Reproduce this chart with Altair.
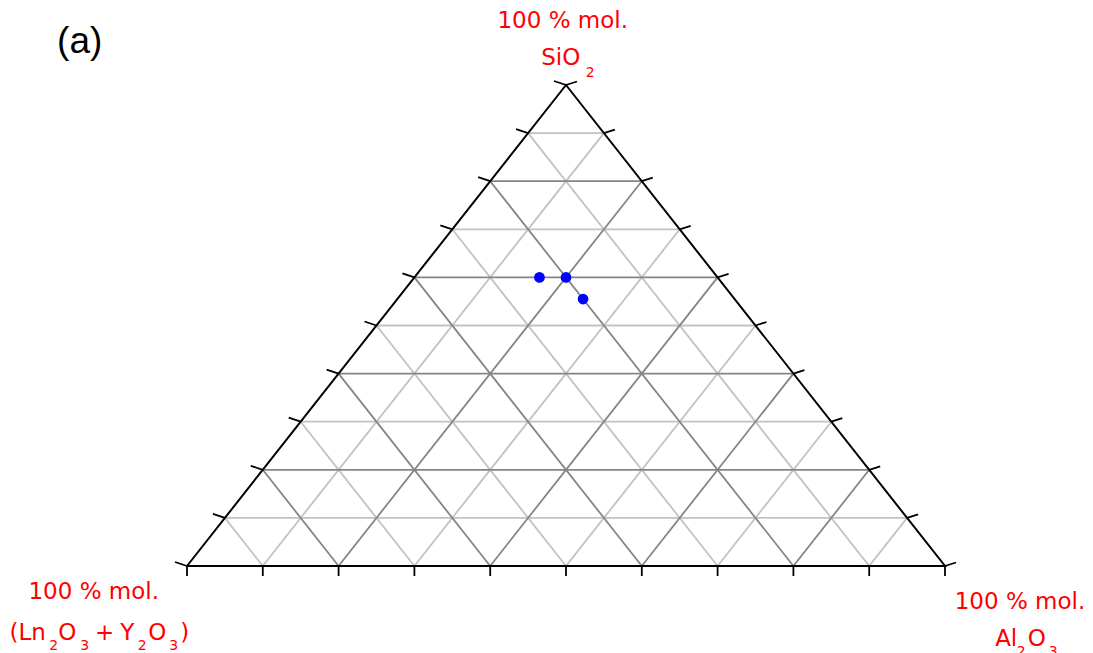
import altair as alt
import pandas as pd

# ---- data ----
grid_levels = [10, 20, 30, 40, 50, 60, 70, 80, 90]          # % mol. grid lines
tick_levels = [0, 10, 20, 30, 40, 50, 60, 70, 80, 90, 100]  # % mol. ticks
sio2 = [60.0, 60.0, 55.5]          # % mol. SiO2
al2o3 = [16.5, 20.0, 24.5]         # % mol. Al2O3
ln2o3_y2o3 = [23.5, 20.0, 20.0]    # % mol. (Ln2O3 + Y2O3)

W, H = 758, 481
RED = "#ff0000"
FONT = "DejaVu Sans"

xs = alt.Scale(domain=[0, 1], nice=False, zero=False)
ys = alt.Scale(domain=[0, 1], nice=False, zero=False)


def to_xy(si, al):
    # ternary (SiO2 top, Al2O3 bottom-right, Ln2O3+Y2O3 bottom-left) -> plot units
    return al + si / 2.0, si


# grid segments
rows = []
for v in grid_levels:
    f = v / 100.0
    kind = "major" if v % 20 == 0 else "minor"
    for (a, b) in [((f, 0.0), (f, 1 - f)),            # SiO2 = f  (horizontal)
                   ((0.0, f), (1 - f, f)),            # Al2O3 = f
                   ((0.0, 1 - f), (1 - f, 0.0))]:     # Ln2O3+Y2O3 = f
        x1, y1 = to_xy(*a)
        x2, y2 = to_xy(*b)
        rows.append(dict(x=x1, y=y1, x2=x2, y2=y2, kind=kind))
grid_df = pd.DataFrame(rows)


def grid_layer(kind, color):
    return alt.Chart(grid_df[grid_df.kind == kind]).mark_rule(
        color=color, strokeWidth=1.8
    ).encode(
        x=alt.X("x:Q", scale=xs, axis=None),
        y=alt.Y("y:Q", scale=ys, axis=None),
        x2="x2:Q", y2="y2:Q",
    )


# outer triangle
tri_df = pd.DataFrame({
    "si": [0.0, 0.0, 1.0, 0.0],
    "al": [0.0, 1.0, 0.0, 0.0],
    "o": [0, 1, 2, 3],
})
outline = alt.Chart(tri_df).transform_calculate(
    x="datum.al + datum.si / 2", y="datum.si"
).mark_line(color="black", strokeWidth=2.0, strokeJoin="miter").encode(
    x=alt.X("x:Q", scale=xs, axis=None),
    y=alt.Y("y:Q", scale=ys, axis=None),
    order="o:O",
)

# ticks
tick_rows = {"bottom": [], "left": [], "right": []}
for t in tick_levels:
    f = t / 100.0
    tick_rows["bottom"].append(dict(zip(("x", "y"), to_xy(0.0, f))))
    tick_rows["left"].append(dict(zip(("x", "y"), to_xy(f, 0.0))))
    tick_rows["right"].append(dict(zip(("x", "y"), to_xy(f, 1 - f))))


def tick_layer(side, ox, oy):
    return alt.Chart(pd.DataFrame(tick_rows[side])).mark_rule(
        color="black", strokeWidth=1.8, x2Offset=ox, y2Offset=oy
    ).encode(
        x=alt.X("x:Q", scale=xs, axis=None),
        y=alt.Y("y:Q", scale=ys, axis=None),
        x2="x:Q", y2="y:Q",
    )


# points
pts_df = pd.DataFrame({"SiO2": sio2, "Al2O3": al2o3, "LnY": ln2o3_y2o3})
points = alt.Chart(pts_df).transform_calculate(
    x="datum.Al2O3 / 100 + datum.SiO2 / 200", y="datum.SiO2 / 100"
).mark_circle(color="#0000ff", opacity=1, size=115).encode(
    x=alt.X("x:Q", scale=xs, axis=None),
    y=alt.Y("y:Q", scale=ys, axis=None),
)


def label(text, vx, vy, dx, dy, size, color=RED, font=FONT):
    return alt.Chart(pd.DataFrame({"t": [text], "x": [vx], "y": [vy]})).mark_text(
        dx=dx, dy=dy, fontSize=size, font=font, color=color,
        align="center", baseline="alphabetic",
    ).encode(
        x=alt.X("x:Q", scale=xs, axis=None),
        y=alt.Y("y:Q", scale=ys, axis=None),
        text="t:N",
    )


M, S = 23, 14
labels = [
    # top vertex: SiO2
    label("100 % mol.", 0.5, 1, -3.3, -57, M),
    label("SiO", 0.5, 1, -5.3, -20, M),
    label("2", 0.5, 1, 24.2, -8, S),
    # bottom-left vertex: Ln2O3 + Y2O3
    label("100 % mol.", 0, 0, -93.3, 33, M),
    label("(Ln", 0, 0, -159.3, 74, M),
    label("2", 0, 0, -133.3, 84, S),
    label("O", 0, 0, -119.8, 74, M),
    label("3", 0, 0, -102.3, 84, S),
    label("+", 0, 0, -82.3, 74, M),
    label("Y", 0, 0, -59.8, 74, M),
    label("2", 0, 0, -44.8, 84, S),
    label("O", 0, 0, -29.8, 74, M),
    label("3", 0, 0, -13.3, 84, S),
    label(")", 0, 0, -2.3, 74, M),
    # bottom-right vertex: Al2O3
    label("100 % mol.", 1, 0, 75.0, 43, M),
    label("Al", 1, 0, 61.2, 80, M),
    label("2", 1, 0, 76.2, 90, S),
    label("O", 1, 0, 91.7, 80, M),
    label("3", 1, 0, 108.2, 90, S),
    # panel tag
    label("(a)", 0, 1, -107.3, -32, 37, color="black", font="Liberation Sans"),
]

chart = alt.layer(
    grid_layer("minor", "#c2c2c2"),
    grid_layer("major", "#858585"),
    outline,
    tick_layer("bottom", 0, 10),
    tick_layer("left", -12, -4),
    tick_layer("right", 11, -3.5),
    points,
    *labels,
).properties(
    width=W, height=H,
    padding={"left": 179, "top": 77, "right": 140, "bottom": 87},
    autosize=alt.AutoSizeParams(type="none"),
).configure_view(strokeWidth=0)

chart.save("out.html", embed_options={"renderer": "svg", "actions": False})
